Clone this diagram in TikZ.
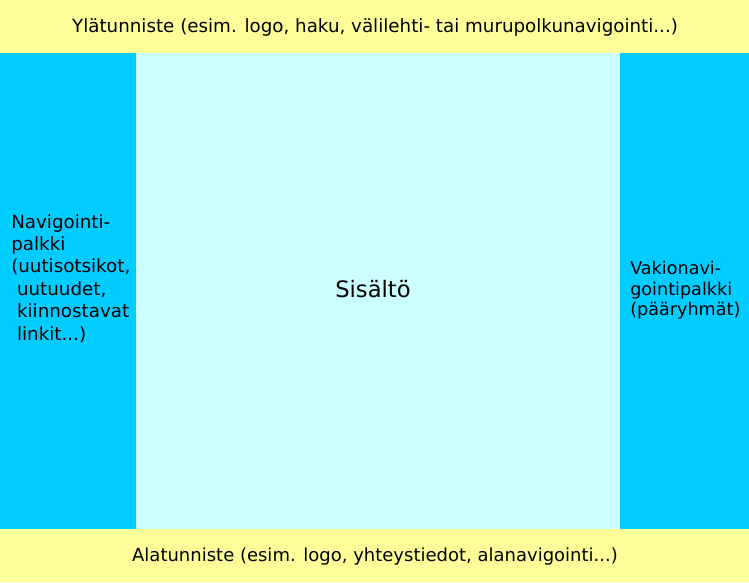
\documentclass[tikz,border=0pt]{standalone}
\usepackage{fontspec}
\setmainfont{DejaVu Sans}
\definecolor{hdr}{HTML}{FFFF99}
\definecolor{mid}{HTML}{CCFFFF}
\definecolor{side}{HTML}{00CCFF}
\begin{document}
\begin{tikzpicture}[x=0.75pt,y=-0.75pt,
  txt/.style={inner sep=0pt, font=\fontsize{13.7}{16.8}\selectfont, align=left},
  region/.style={draw=none, inner sep=0pt}]
\useasboundingbox (0,0) rectangle (749,582);
\fill[mid] (0,0) rectangle (749,582);
\fill[hdr] (0,0) rectangle (749,53);
\fill[hdr] (0,529) rectangle (749,582);
\fill[side] (0,53) rectangle (136,529);
\fill[side] (620,53) rectangle (749,529);
\node[txt, anchor=base] (header) at (375,32) {Ylätunniste (esim. logo, haku, välilehti- tai murupolkunavigointi...)};
\node[txt, font=\fontsize{13.5}{16.8}\selectfont, anchor=base] (footer) at (375,561) {Alatunniste (esim. logo, yhteystiedot, alanavigointi...)};
\node[txt, font=\fontsize{17}{20}\selectfont, anchor=base] (content) at (373,297) {Sisältö};
\node[txt, anchor=north west] (leftnav) at (11,214) {Navigointi-\\palkki\\(uutisotsikot,\\ \ uutuudet,\\ \ kiinnostavat\\ \ linkit...)};
\node[txt, font=\fontsize{13.2}{15.4}\selectfont, anchor=north west] (rightnav) at (630,261) {Vakionavi-\\gointipalkki\\(pääryhmät)};
\end{tikzpicture}
\end{document}
